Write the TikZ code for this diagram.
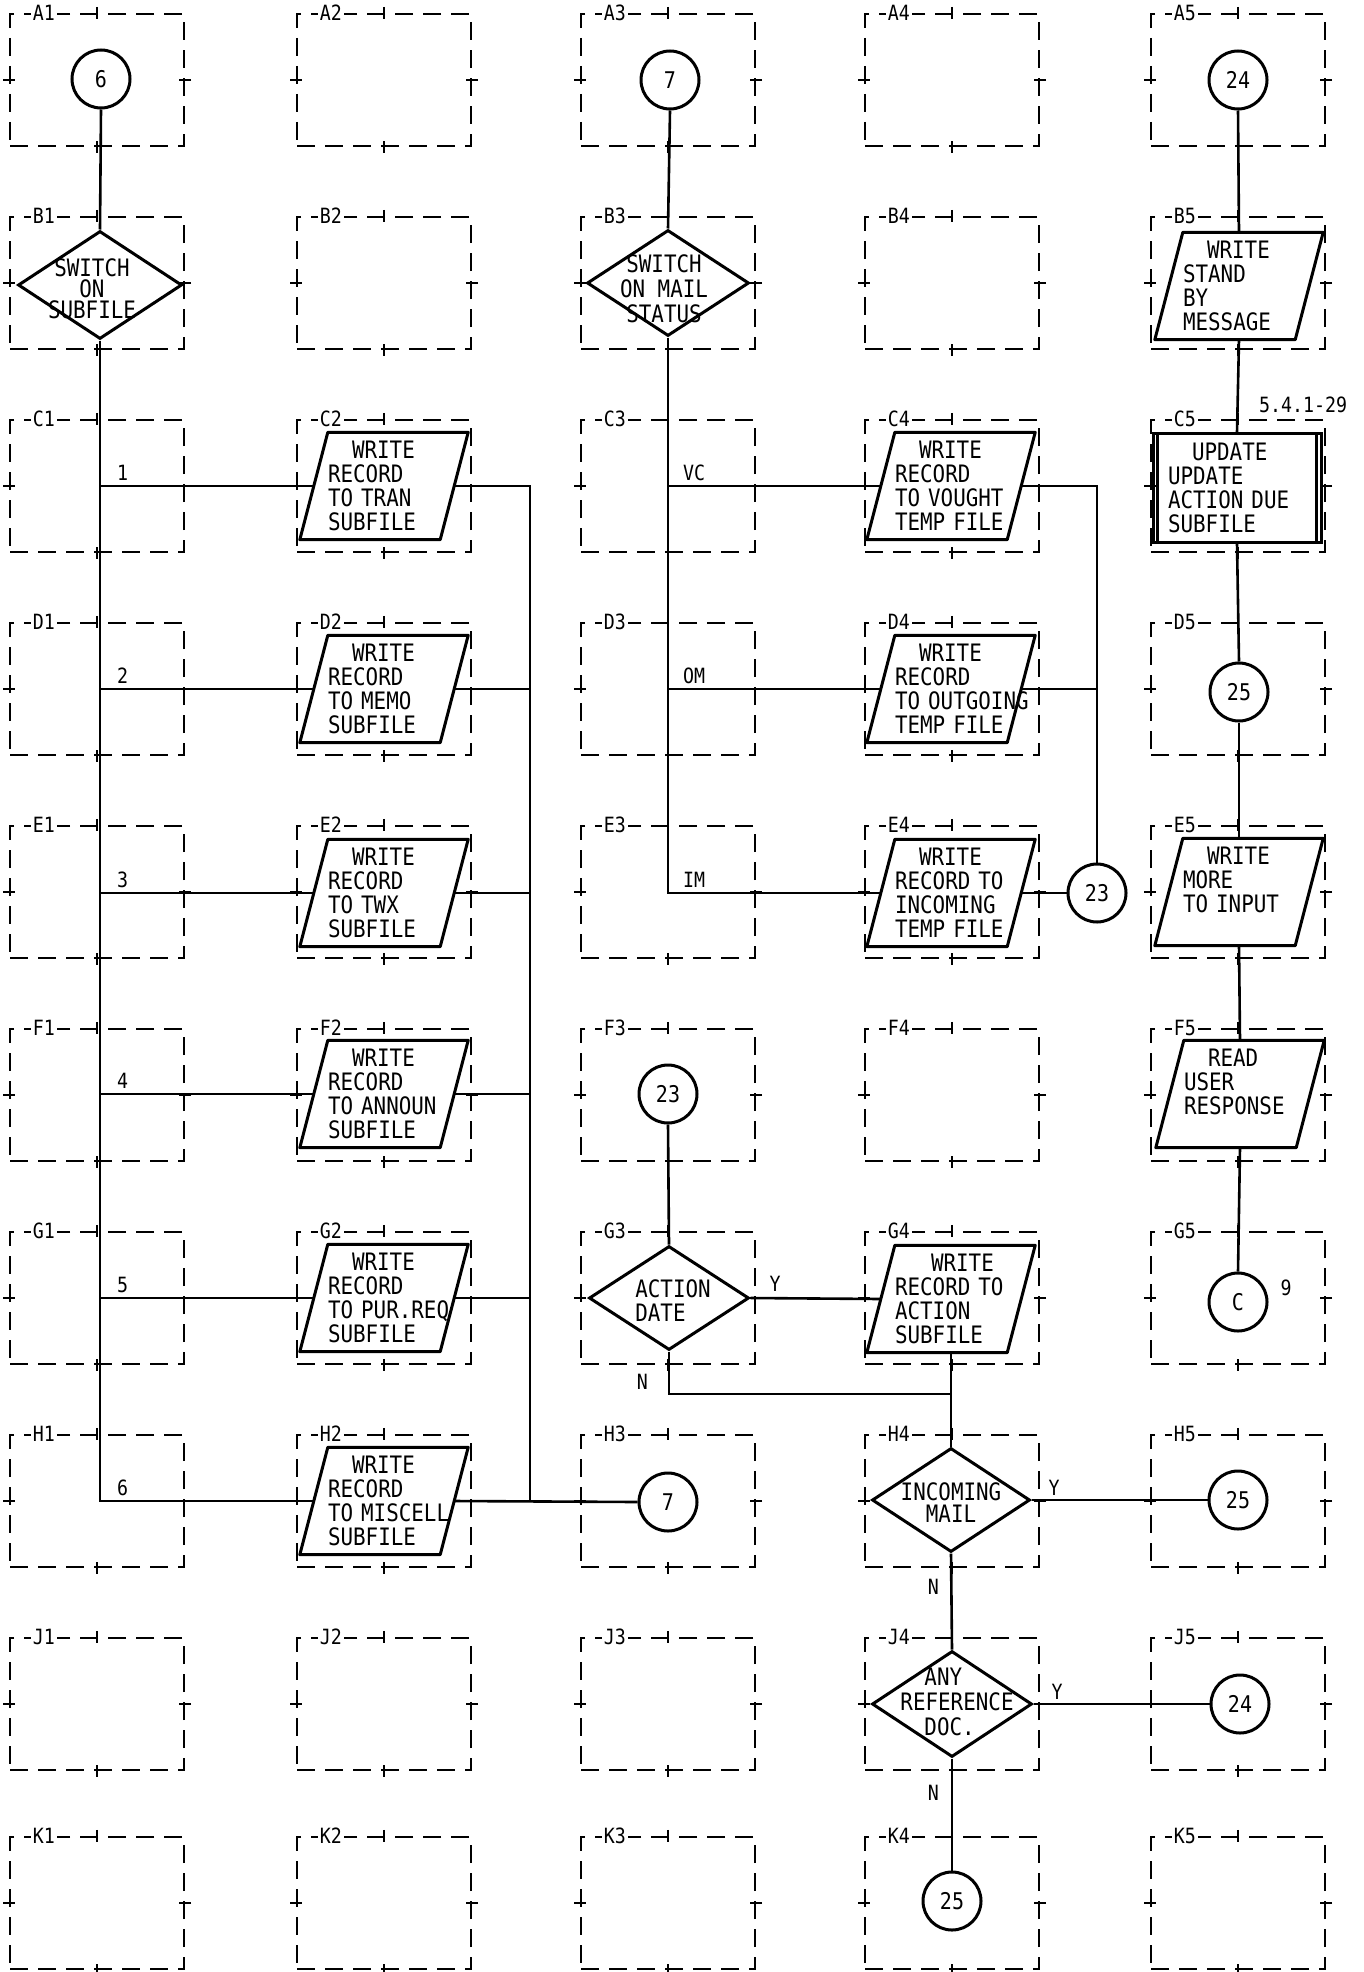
\documentclass[tikz,border=0pt]{standalone}
\usepackage{fontspec}
\newfontfamily\pf[FakeStretch=0.87]{DejaVu Sans Mono}
\usetikzlibrary{shapes.geometric}
\tikzset{
  conn/.style={line width=2.6pt},
  shp/.style={draw, line width=3pt},
  gbox/.style={draw, rectangle, line width=2.2pt, dash pattern=on 18pt off 10pt, minimum width=174pt, minimum height=132pt, inner sep=0pt},
  tk/.style={line width=2pt},
  glab/.style={fill=white, inner sep=2pt, font=\pf\fontsize{21}{21}\selectfont},
  circ/.style={shp, circle, minimum size=58pt, inner sep=0pt, font=\pf\fontsize{23}{23}\selectfont},
  dia/.style={shp, diamond, inner sep=0pt},
  dtxt/.style={inner sep=0pt, align=center, font=\pf\fontsize{24}{23}\selectfont},
  para/.style={rectangle, inner xsep=14pt, inner ysep=0pt, minimum width=140pt, minimum height=107pt, text width=112pt, align=left, font=\pf\fontsize{24}{24}\selectfont},
  proc/.style={shp, rectangle, inner xsep=15pt, inner ysep=0pt, minimum width=168pt, minimum height=109pt, text width=138pt, align=left, font=\pf\fontsize{24}{24}\selectfont},
  blab/.style={inner sep=0pt, font=\pf\fontsize{21}{21}\selectfont},
}
\newcommand\drawpara[1]{\draw[line width=3pt, line join=round] ([xshift=14pt]#1.north west) -- ([xshift=14pt]#1.north east) -- ([xshift=-14pt]#1.south east) -- ([xshift=-14pt]#1.south west) -- cycle;}
\begin{document}
\begin{tikzpicture}[x=1pt,y=-1pt]
\fill[white] (0,0) rectangle (1364,1972);
\useasboundingbox (0,0) rectangle (1364,1972);
% grid
\foreach \c/\cx in {1/97,2/384,3/668,4/952,5/1238}{
 \foreach \r/\cy in {A/80,B/283,C/486,D/689,E/892,F/1095,G/1298,H/1501,J/1704,K/1903}{
  \node[gbox] (g\r\c) at (\cx,\cy) {};
  \draw[tk] ([yshift=6pt]g\r\c.north) -- ([yshift=-6pt]g\r\c.north);
  \draw[tk] ([yshift=6pt]g\r\c.south) -- ([yshift=-6pt]g\r\c.south);
  \draw[tk] ([xshift=6pt]g\r\c.west) -- ([xshift=-6pt]g\r\c.west);
  \draw[tk] ([xshift=6pt]g\r\c.east) -- ([xshift=-6pt]g\r\c.east);
  \node[glab] (l\r\c) at ([xshift=35pt]g\r\c.north west) {\r\c};
 }
}
\node[glab] (pgno) at (1303,405) {5.4.1-29};
% column 1 and 2
\node[circ] (a1c) at (101,79) {6};
\node[dia, minimum width=164pt, minimum height=108pt] (b1d) at (100,285) {};
\node[dtxt, font=\pf\fontsize{24}{21}\selectfont] (b1t) at (92,289) {SWITCH\\ON\\SUBFILE};
\node[para] (c2p) at (384,486) {\hspace*{24pt}WRITE\\RECORD\\TO TRAN\\SUBFILE};
\node[para] (d2p) at (384,689) {\hspace*{24pt}WRITE\\RECORD\\TO MEMO\\SUBFILE};
\node[para] (e2p) at (384,893) {\hspace*{24pt}WRITE\\RECORD\\TO TWX\\SUBFILE};
\node[para] (f2p) at (384,1094) {\hspace*{24pt}WRITE\\RECORD\\\mbox{TO ANNOUN}\\SUBFILE};
\node[para] (g2p) at (384,1298) {\hspace*{24pt}WRITE\\RECORD\\\mbox{TO PUR.REQ}\\SUBFILE};
\node[para] (h2p) at (384,1501) {\hspace*{24pt}WRITE\\RECORD\\\mbox{TO MISCELL}\\SUBFILE};
\foreach \n in {c2p,d2p,e2p,f2p,g2p,h2p} {\drawpara{\n}}
\node[circ] (h3c) at (668,1502) {7};
\draw[conn] (a1c.south) -- (b1d.north);
\draw[conn] (b1d.south) -- (b1d.south |- h2p.west) -- (h2p.west);
\foreach \n in {c2p,d2p,e2p,f2p,g2p} {\draw[conn] (b1d.south |- \n.west) -- (\n.west);}
\foreach \n/\t in {c2p/1,d2p/2,e2p/3,f2p/4,g2p/5,h2p/6} {\path (b1d.south |- \n.west) node[blab, anchor=south west, xshift=17pt, yshift=5pt] (lab\t) {\t};}
\coordinate (k2) at (530,1501);
\draw[conn] (c2p.east) -| (k2);
\foreach \n in {d2p,e2p,f2p,g2p} {\draw[conn] (\n.east) -- (\n.east -| k2);}
\draw[conn] (h2p.east) -- (h3c.west);
% column 3 and 4
\node[circ] (a3c) at (670,80) {7};
\node[dia, minimum width=162pt, minimum height=106pt] (b3d) at (668,283) {};
\node[dtxt, font=\pf\fontsize{24}{25}\selectfont] (b3t) at (664,289) {SWITCH\\ON MAIL\\STATUS};
\node[para] (c4p) at (951,486) {\hspace*{24pt}WRITE\\RECORD\\TO VOUGHT\\TEMP FILE};
\node[para] (d4p) at (951,689) {\hspace*{24pt}WRITE\\RECORD\\\mbox{TO OUTGOING}\\TEMP FILE};
\node[para] (e4p) at (951,893) {\hspace*{24pt}WRITE\\\mbox{RECORD TO}\\INCOMING\\TEMP FILE};
\foreach \n in {c4p,d4p,e4p} {\drawpara{\n}}
\node[circ] (e23) at (1097,893) {23};
\draw[conn] (a3c.south) -- (b3d.north);
\draw[conn] (b3d.south) |- (e4p.west);
\foreach \n in {c4p,d4p} {\draw[conn] (b3d.south |- \n.west) -- (\n.west);}
\foreach \n/\t in {c4p/VC,d4p/OM,e4p/IM} {\path (b3d.south |- \n.west) node[blab, anchor=south west, xshift=15pt, yshift=5pt] (lab\t) {\t};}
\draw[conn] (c4p.east) -| (e23.north);
\draw[conn] (d4p.east) -- (d4p.east -| e23.north);
\draw[conn] (e4p.east) -- (e23.west);
% lower middle
\node[circ] (f23) at (668,1094) {23};
\node[dia, minimum width=160pt, minimum height=104pt] (g3d) at (669,1298) {};
\node[dtxt, align=left, font=\pf\fontsize{24}{24}\selectfont] (g3t) at (673,1301) {ACTION\\DATE};
\node[para] (g4p) at (951,1299) {\hspace*{36pt}WRITE\\\mbox{RECORD TO}\\ACTION\\SUBFILE};
\drawpara{g4p}
\coordinate (m1) at (951,1394);
\node[dia, minimum width=158pt, minimum height=104pt] (h4d) at (951,1500) {};
\node[dtxt, font=\pf\fontsize{24}{22}\selectfont] (h4t) at (951,1503) {INCOMING\\MAIL};
\node[circ] (h25) at (1238,1500) {25};
\node[dia, minimum width=160pt, minimum height=106pt] (j4d) at (952,1704) {};
\node[dtxt, align=left, font=\pf\fontsize{24}{25}\selectfont] (j4t) at (957,1702) {\hspace*{24pt}ANY\\REFERENCE\\\hspace*{24pt}DOC.};
\node[circ] (j24) at (1240,1704) {24};
\node[circ] (k25) at (952,1901) {25};
\draw[conn] (f23.south) -- (g3d.north);
\draw[conn] (g3d.east) -- (g4p.west);
\draw[conn] (g3d.south) |- (m1);
\draw[conn] (g4p.south) -- (h4d.north);
\draw[conn] (h4d.east) -- (h25.west);
\draw[conn] (h4d.south) -- (j4d.north);
\draw[conn] (j4d.east) -- (j24.west);
\draw[conn] (j4d.south) -- (k25.north);
\path (g3d.east) node[blab, anchor=south west, xshift=19pt, yshift=6pt] (yg3) {Y};
\path (h4d.east) node[blab, anchor=south west, xshift=17pt, yshift=4pt] (yh4) {Y};
\path (j4d.east) node[blab, anchor=south west, xshift=18pt, yshift=4pt] (yj4) {Y};
\node[blab, anchor=east] (ng3) at (648,1382) {N};
\node[blab, anchor=east] (nh4) at (939,1587) {N};
\node[blab, anchor=east] (nj4) at (939,1793) {N};
% column 5
\node[circ] (a24) at (1238,80) {24};
\node[para] (b5p) at (1239,286) {\hspace*{24pt}WRITE\\STAND\\BY\\MESSAGE};
\node[proc] (c5r) at (1237,488) {\hspace*{24pt}UPDATE\\UPDATE\\ACTION DUE\\SUBFILE};
\draw[line width=2.4pt] ([xshift=6pt]c5r.north west) -- ([xshift=6pt]c5r.south west);
\draw[line width=2.4pt] ([xshift=-6pt]c5r.north east) -- ([xshift=-6pt]c5r.south east);
\node[circ] (d25) at (1239,692) {25};
\node[para] (e5p) at (1239,892) {\hspace*{24pt}WRITE\\MORE\\TO INPUT\\\mbox{}};
\node[para] (f5p) at (1240,1094) {\hspace*{24pt}READ\\USER\\RESPONSE\\\mbox{}};
\foreach \n in {b5p,e5p,f5p} {\drawpara{\n}}
\node[circ] (g5c) at (1238,1302) {C};
\node[blab] (nine) at (1286,1288) {9};
\draw[conn] (a24.south) -- (b5p.north);
\draw[conn] (b5p.south) -- (c5r.north);
\draw[conn] (c5r.south) -- (d25.north);
\draw[conn] (d25.south) -- (e5p.north);
\draw[conn] (e5p.south) -- (f5p.north);
\draw[conn] (f5p.south) -- (g5c.north);
\end{tikzpicture}
\end{document}
